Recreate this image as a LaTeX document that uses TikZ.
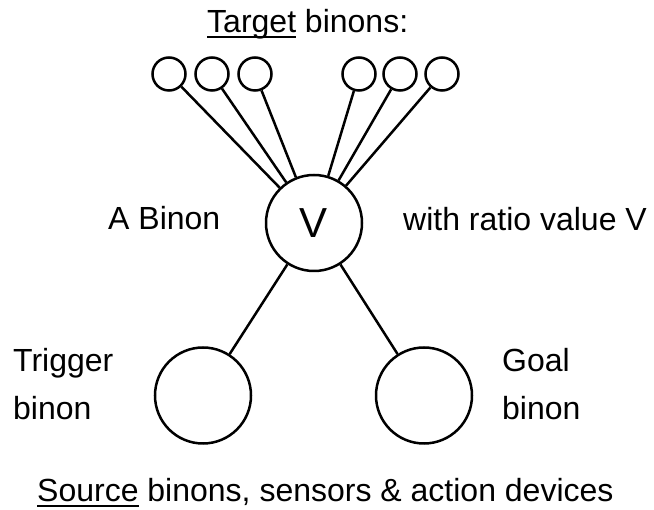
\documentclass[tikz,border=0pt]{standalone}
\usepackage{fontspec}
\setmainfont{Liberation Sans}
\newcommand\myul[1]{\setbox0\hbox{#1}\rlap{\rule[-5pt]{\wd0}{2pt}}#1}
\begin{document}
\begin{tikzpicture}[x=1pt,y=-1pt,
  lbl/.style={inner sep=0pt,anchor=base west,font=\fontsize{32}{38}\selectfont},
  small/.style={circle,draw,line width=2.5pt,minimum size=33pt,inner sep=0pt},
  big/.style={circle,draw,line width=2.5pt,minimum size=96pt,inner sep=0pt},
  conn/.style={line width=2.5pt}]
\useasboundingbox (0,0) rectangle (654,510);
\node[big] (v) at (314,223) {};
\node[inner sep=0pt,font=\fontsize{42}{46}\selectfont] (vl) at (314,223) {V};
\node[big] (trig) at (203,395.5) {};
\node[big] (goal) at (424,395.5) {};
\node[small] (t1) at (169,74) {};
\node[small] (t2) at (212,74) {};
\node[small] (t3) at (255,74) {};
\node[small] (t4) at (359,74) {};
\node[small] (t5) at (400,74) {};
\node[small] (t6) at (442,74) {};
\foreach \t in {t1,t2,t3,t4,t5,t6} \draw[conn] (\t) -- (v);
\draw[conn] (trig) -- (v);
\draw[conn] (goal) -- (v);
\node[lbl] (title) at (207,33) {\myul{Target} binons:};
\node[lbl] (ab) at (108,230) {A Binon};
\node[lbl] (wr) at (403,231) {with ratio value V};
\node[lbl] (tg1) at (13,372) {Trigger};
\node[lbl] (tg2) at (13,420) {binon};
\node[lbl] (gl1) at (502,372) {Goal};
\node[lbl] (gl2) at (502,420) {binon};
\node[lbl] (src) at (37,502) {\myul{Source} binons, sensors \& action devices};
\end{tikzpicture}
\end{document}
